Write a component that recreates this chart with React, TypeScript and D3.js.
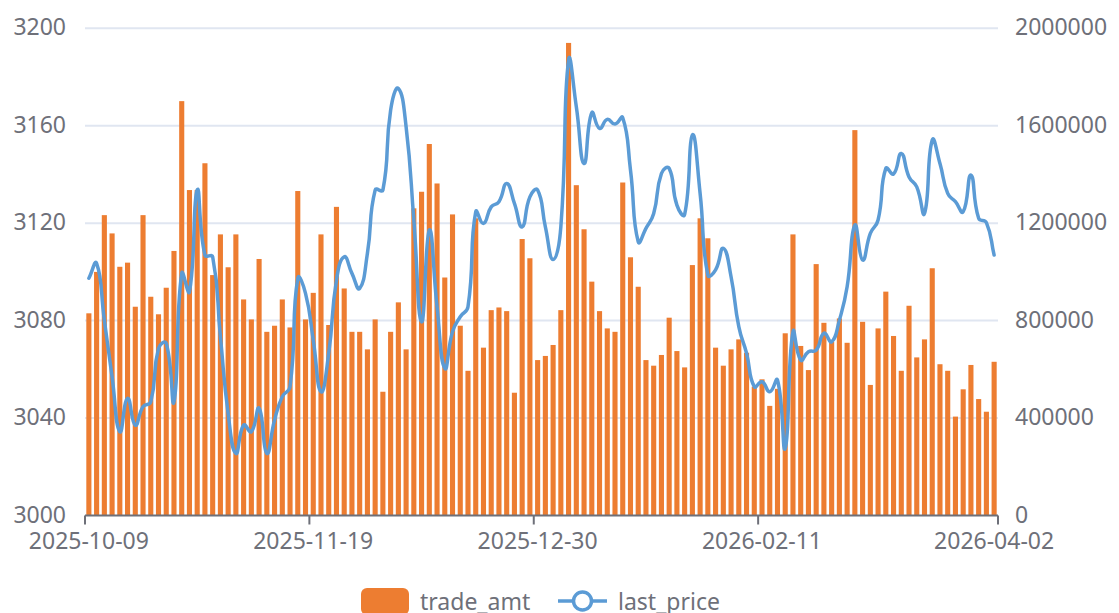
import React, { useEffect } from 'react';
import * as d3 from 'd3';

const dates: string[] = [
  '2025-10-09','2025-10-10','2025-10-13','2025-10-14','2025-10-15','2025-10-16','2025-10-17',
  '2025-10-20','2025-10-21','2025-10-22','2025-10-23','2025-10-24','2025-10-27','2025-10-28',
  '2025-10-29','2025-10-30','2025-10-31','2025-11-03','2025-11-04','2025-11-05','2025-11-06',
  '2025-11-07','2025-11-10','2025-11-11','2025-11-12','2025-11-13','2025-11-14','2025-11-17',
  '2025-11-18','2025-11-19','2025-11-20','2025-11-21','2025-11-24','2025-11-25','2025-11-26',
  '2025-11-27','2025-11-28','2025-12-01','2025-12-02','2025-12-03','2025-12-04','2025-12-05',
  '2025-12-08','2025-12-09','2025-12-10','2025-12-11','2025-12-12','2025-12-15','2025-12-16',
  '2025-12-17','2025-12-18','2025-12-19','2025-12-22','2025-12-23','2025-12-24','2025-12-25',
  '2025-12-26','2025-12-29','2025-12-30','2025-12-31','2026-01-05','2026-01-06','2026-01-07',
  '2026-01-08','2026-01-09','2026-01-12','2026-01-13','2026-01-14','2026-01-15','2026-01-16',
  '2026-01-19','2026-01-20','2026-01-21','2026-01-22','2026-01-23','2026-01-26','2026-01-27',
  '2026-01-28','2026-01-29','2026-01-30','2026-02-02','2026-02-03','2026-02-04','2026-02-05',
  '2026-02-06','2026-02-09','2026-02-10','2026-02-11','2026-02-12','2026-02-13','2026-02-24',
  '2026-02-25','2026-02-26','2026-02-27','2026-03-02','2026-03-03','2026-03-04','2026-03-05',
  '2026-03-06','2026-03-09','2026-03-10','2026-03-11','2026-03-12','2026-03-13','2026-03-16',
  '2026-03-17','2026-03-18','2026-03-19','2026-03-20','2026-03-23','2026-03-24','2026-03-25',
  '2026-03-26','2026-03-27','2026-03-30','2026-03-31','2026-04-01','2026-04-02',
];

const tradeAmt: number[] = [
  830000, 1000000, 1233000, 1158000, 1021000, 1038000, 857000, 1233000, 898000, 826000,
  935000, 1086000, 1701000, 1336000, 1336000, 1446000, 987000, 1154000, 1019000, 1154000,
  887000, 805000, 1053000, 754000, 779000, 887000, 772000, 1332000, 805000, 914000,
  1154000, 782000, 1267000, 932000, 754000, 754000, 682000, 805000, 508000, 754000,
  875000, 682000, 1261000, 1329000, 1525000, 1363000, 977000, 1236000, 779000, 594000,
  1220000, 689000, 843000, 854000, 839000, 504000, 1135000, 1056000, 638000, 655000,
  700000, 843000, 1940000, 1356000, 1175000, 960000, 839000, 768000, 754000, 1367000,
  1060000, 939000, 638000, 615000, 659000, 812000, 675000, 608000, 1028000, 1220000,
  1138000, 689000, 615000, 682000, 723000, 668000, 529000, 559000, 450000, 520000,
  748000, 1154000, 696000, 597000, 1032000, 791000, 713000, 809000, 709000, 1582000,
  795000, 536000, 768000, 919000, 737000, 594000, 861000, 649000, 723000, 1015000,
  621000, 594000, 406000, 518000, 618000, 478000, 426000, 631000,
];

const lastPrice: number[] = [
  3097.4, 3103.5, 3080.2, 3057.0, 3034.4, 3048.1, 3037.1, 3044.7, 3046.7, 3068.6,
  3070.7, 3046.7, 3099.4, 3091.8, 3133.6, 3106.9, 3106.2, 3073.4, 3041.9, 3025.5,
  3037.1, 3034.4, 3044.0, 3025.5, 3039.2, 3048.8, 3052.9, 3097.4, 3091.2, 3072.0,
  3050.8, 3066.6, 3096.6, 3106.2, 3099.4, 3093.2, 3107.6, 3133.6, 3133.6, 3166.4,
  3175.3, 3159.6, 3121.3, 3079.5, 3117.2, 3085.7, 3060.4, 3075.4, 3081.6, 3085.7,
  3124.7, 3119.9, 3126.7, 3128.8, 3136.3, 3128.1, 3118.5, 3130.8, 3133.6, 3118.5,
  3105.1, 3118.5, 3186.9, 3167.8, 3144.5, 3165.3, 3158.9, 3162.6, 3160.7, 3163.3,
  3141.8, 3112.4, 3117.9, 3124.0, 3140.4, 3142.5, 3127.4, 3123.6, 3156.2, 3132.2,
  3098.7, 3100.8, 3109.7, 3098.0, 3077.5, 3066.6, 3052.9, 3054.9, 3050.8, 3055.6,
  3027.6, 3075.4, 3063.8, 3067.2, 3067.9, 3074.8, 3071.3, 3080.2, 3093.9, 3119.2,
  3104.9, 3115.8, 3121.3, 3142.5, 3140.2, 3148.6, 3139.0, 3134.9, 3124.0, 3154.1,
  3144.5, 3132.2, 3128.8, 3124.7, 3139.7, 3122.0, 3120.2, 3106.9,
];

const leftTicks: number[] = [3000, 3040, 3080, 3120, 3160, 3200];
const rightTicks: number[] = [0, 400000, 800000, 1200000, 1600000, 2000000];
const labelIndex: number[] = [0, 29, 58, 87, 117];

const seriesNames = { bar: 'trade_amt', line: 'last_price' };

const W = 1119;
const H = 613;
const PLOT = { left: 85, right: 998, top: 28.3, bottom: 515.5 };
const ORANGE = '#ed7d31';
const BLUE = '#5b9bd5';
const LABEL = '#6e7079';
const GRID = '#e0e6f1';
const FONT = '"Noto Sans", "DejaVu Sans", sans-serif';

// ECharts-like smooth bezier curve as a D3 curve factory
function smoothCurve(context: any) {
  let pts: [number, number][] = [];
  const s = 0.5;
  return {
    areaStart() {},
    areaEnd() {},
    lineStart() { pts = []; },
    point(x: number, y: number) { pts.push([+x, +y]); },
    lineEnd() {
      const n = pts.length;
      if (!n) return;
      const cpOut: [number, number][] = [];
      const cpIn: [number, number][] = [];
      for (let i = 0; i < n; i++) {
        const p = pts[i];
        const prev = pts[i - 1] || p;
        const next = pts[i + 1] || p;
        const vx = next[0] - prev[0];
        const vy = next[1] - prev[1];
        const l0 = Math.hypot(p[0] - prev[0], p[1] - prev[1]);
        const l1 = Math.hypot(next[0] - p[0], next[1] - p[1]);
        const r = l0 + l1 > 0 ? l1 / (l0 + l1) : 0.5;
        cpOut.push([p[0] + vx * s * r, p[1] + vy * s * r]);
        cpIn.push([p[0] - vx * s * (1 - r), p[1] - vy * s * (1 - r)]);
      }
      context.moveTo(pts[0][0], pts[0][1]);
      for (let i = 0; i < n - 1; i++) {
        context.bezierCurveTo(cpOut[i][0], cpOut[i][1], cpIn[i + 1][0], cpIn[i + 1][1], pts[i + 1][0], pts[i + 1][1]);
      }
    },
  };
}

export default function App() {
  useEffect(() => {
    document.body.style.margin = '0';
  }, []);

  const x = d3.scaleBand<string>().domain(dates).range([PLOT.left, PLOT.right]).padding(0);
  const bw = x.bandwidth();
  const yL = d3.scaleLinear().domain([3000, 3200]).range([PLOT.bottom, PLOT.top]);
  const yR = d3.scaleLinear().domain([0, 2000000]).range([PLOT.bottom, PLOT.top]);
  const cx = (d: string) => (x(d) as number) + bw / 2;

  const line = d3
    .line<number>()
    .x((_, i) => cx(dates[i]))
    .y((v) => yL(v))
    .curve(smoothCurve as any);

  const barW = bw * 0.66;
  const tickXs = labelIndex.map((i) => (i === dates.length - 1 ? PLOT.right : (x(dates[i]) as number)));

  return (
    <div style={{ position: 'absolute', left: 0, top: 0 }}>
      <svg width={W} height={H} viewBox={`0 0 ${W} ${H}`} style={{ display: 'block', background: '#fff' }}>
        {/* grid lines */}
        {leftTicks.slice(1).map((t) => (
          <line key={'g' + t} x1={PLOT.left} x2={PLOT.right} y1={yL(t)} y2={yL(t)} stroke={GRID} strokeWidth={2} />
        ))}
        {/* left labels */}
        {leftTicks.map((t) => (
          <text key={'l' + t} x={66} y={yL(t) - 2} textAnchor="end" dominantBaseline="central"
            fontFamily={FONT} fontSize={23} fill={LABEL}>{t}</text>
        ))}
        {/* right labels */}
        {rightTicks.map((t) => (
          <text key={'r' + t} x={1015} y={yR(t) - 2} textAnchor="start" dominantBaseline="central"
            fontFamily={FONT} fontSize={23} fill={LABEL}>{t}</text>
        ))}
        {/* bars */}
        {tradeAmt.map((v, i) => (
          <rect key={'b' + i} x={cx(dates[i]) - barW / 2} y={yR(v)} width={barW} height={PLOT.bottom - yR(v)} fill={ORANGE} />
        ))}
        {/* x axis */}
        <line x1={PLOT.left} x2={PLOT.right} y1={PLOT.bottom} y2={PLOT.bottom} stroke={LABEL} strokeWidth={2} />
        {tickXs.map((tx, k) => (
          <line key={'t' + k} x1={tx} x2={tx} y1={PLOT.bottom} y2={PLOT.bottom + 9} stroke={LABEL} strokeWidth={2} />
        ))}
        {labelIndex.map((i) => (
          <text key={'x' + i} x={cx(dates[i])} y={540} textAnchor="middle" dominantBaseline="central"
            fontFamily={FONT} fontSize={23} fill={LABEL}>{dates[i]}</text>
        ))}
        {/* line */}
        <path d={line(lastPrice) || ''} fill="none" stroke={BLUE} strokeWidth={3.5} strokeLinejoin="round" strokeLinecap="round" />
        {/* legend */}
        <rect x={361} y={588} width={48} height={27} rx={6} ry={6} fill={ORANGE} />
        <text x={420} y={601} dominantBaseline="central" fontFamily={FONT} fontSize={23} fill={LABEL}>{seriesNames.bar}</text>
        <line x1={558} x2={607} y1={601} y2={601} stroke={BLUE} strokeWidth={3.5} />
        <circle cx={582.5} cy={601} r={9} fill="#fff" stroke={BLUE} strokeWidth={3.5} />
        <text x={618} y={601} dominantBaseline="central" fontFamily={FONT} fontSize={23} fill={LABEL}>{seriesNames.line}</text>
      </svg>
    </div>
  );
}
